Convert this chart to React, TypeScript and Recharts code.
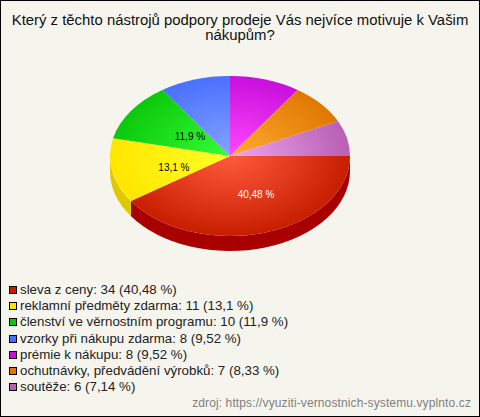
import { PieChart, Pie, Legend } from 'recharts';

const names = [
  'sleva z ceny',
  'reklamní předměty zdarma',
  'členství ve věrnostním programu',
  'vzorky při nákupu zdarma',
  'prémie k nákupu',
  'ochutnávky, předvádění výrobků',
  'soutěže',
];
const counts = [34, 11, 10, 8, 8, 7, 6];
const percents = ['40,48', '13,1', '11,9', '9,52', '9,52', '8,33', '7,14'];
const rimColors = ['#c81e00', '#ffe600', '#0cc80c', '#4a70ff', '#c80fdc', '#e07800', '#b860b4'];
const coreColors = ['#ff5a3c', '#ffff28', '#34ff34', '#84a4ff', '#ff48ff', '#ffac34', '#f0a4f0'];
const sideColors = ['#a80000', '#e0c800', '#0a9a0a', '#3a58c8', '#9c0cac', '#b06000', '#90488c'];

const data = names.map((name, i) => ({ name, value: counts[i] }));

const SQUASH = 2 / 3;
const DEPTH = 15;

const pt = (cx: number, cy: number, r: number, deg: number) => {
  const a = (-deg * Math.PI) / 180;
  return [cx + r * Math.cos(a), cy + r * SQUASH * Math.sin(a)];
};

function TopSlice(props: any) {
  const { cx, cy, outerRadius: r, startAngle, endAngle, index } = props;
  const [x1, y1] = pt(cx, cy, r, startAngle);
  const [x2, y2] = pt(cx, cy, r, endAngle);
  const large = Math.abs(endAngle - startAngle) > 180 ? 1 : 0;
  const id = `top-${index}`;
  return (
    <g>
      <defs>
        <radialGradient
          id={id}
          gradientUnits="userSpaceOnUse"
          cx={0}
          cy={0}
          r={1}
          gradientTransform={`translate(${cx} ${cy}) scale(${r} ${r * SQUASH})`}
        >
          <stop offset="0%" stopColor={coreColors[index]} />
          <stop offset="100%" stopColor={rimColors[index]} />
        </radialGradient>
      </defs>
      <path
        d={`M${cx},${cy} L${x1},${y1} A${r},${r * SQUASH} 0 ${large} 1 ${x2},${y2} Z`}
        fill={`url(#${id})`}
      />
    </g>
  );
}

// only the front half of the rim shows, so clip the slice to 0..-180 degrees
function SideSlice(props: any) {
  const { cx, cy, outerRadius: r, startAngle, endAngle, index } = props;
  const from = Math.max(startAngle, -180);
  const to = Math.max(endAngle, -180);
  if (from <= to) return <g />;
  const [x1, y1] = pt(cx, cy, r, from);
  const [x2, y2] = pt(cx, cy, r, to);
  const ry = r * SQUASH;
  return (
    <path
      d={`M${x1},${y1} A${r},${ry} 0 0 1 ${x2},${y2} L${x2},${y2 + DEPTH} A${r},${ry} 0 0 0 ${x1},${y1 + DEPTH} Z`}
      fill={sideColors[index]}
    />
  );
}

// the original labels sit a little off the slice bisector
const labelReach = [0.53, 0.487, 0.41];
const labelTurn = [7, 5.7, -1.2];

function sliceLabel(props: any) {
  const { cx, cy, outerRadius: r, midAngle, index } = props;
  if (index > 2) return null;
  const [x, y] = pt(cx, cy, r * labelReach[index], midAngle + labelTurn[index]);
  return (
    <text
      x={x}
      y={y}
      textAnchor="middle"
      dominantBaseline="central"
      fontFamily="Liberation Sans"
      fontSize={10}
      fill={index === 0 ? '#ffffff' : '#000000'}
    >
      {percents[index]} %
    </text>
  );
}

function LegendRows() {
  return (
    <div style={{ fontFamily: 'Liberation Sans', fontSize: 13.3, color: '#222222' }}>
      {names.map((name, i) => (
        <div key={name} style={{ height: 16.2, lineHeight: '16px', whiteSpace: 'nowrap', display: 'flex', alignItems: 'center' }}>
          <span
            style={{
              width: 6,
              height: 6,
              border: '1px solid #000000',
              background: rimColors[i],
              marginRight: 3,
              flex: 'none',
            }}
          />
          {name}: {counts[i]} ({percents[i]} %)
        </div>
      ))}
    </div>
  );
}

export default function App() {
  return (
    <div
      style={{
        position: 'absolute',
        left: 0,
        top: 0,
        width: 480,
        height: 417,
        boxSizing: 'border-box',
        border: '1px solid #000000',
        background: '#f5f5ee',
        overflow: 'hidden',
      }}
    >
      <PieChart
        width={480}
        height={417}
        margin={{ top: 0, right: 0, bottom: 0, left: 0 }}
        style={{ position: 'absolute', left: -1, top: -1 }}
      >
        <Pie
          data={data}
          dataKey="value"
          nameKey="name"
          cx={230}
          cy={156}
          outerRadius={120}
          startAngle={0}
          endAngle={-360}
          stroke="none"
          legendType="none"
          isAnimationActive={false}
          shape={SideSlice}
        />
        <Pie
          data={data}
          dataKey="value"
          nameKey="name"
          cx={230}
          cy={156}
          outerRadius={120}
          startAngle={0}
          endAngle={-360}
          stroke="none"
          isAnimationActive={false}
          shape={TopSlice}
          label={sliceLabel}
          labelLine={false}
        />
        <Legend
          content={<LegendRows />}
          layout="horizontal"
          align="left"
          verticalAlign="bottom"
          wrapperStyle={{ left: 9, top: 282, bottom: 'auto', width: 320 }}
        />
      </PieChart>
      <div
        style={{
          position: 'absolute',
          left: 0,
          top: 12,
          width: 478,
          textAlign: 'center',
          fontFamily: 'Liberation Sans',
          fontSize: 14.9,
          lineHeight: '15px',
          color: '#111111',
        }}
      >
        Který z těchto nástrojů podpory prodeje Vás nejvíce motivuje k Vašim nákupům?
      </div>
      <div
        style={{
          position: 'absolute',
          right: 8,
          top: 395,
          fontFamily: 'Liberation Sans',
          fontSize: 12,
          letterSpacing: 0.115,
          color: '#808080',
          whiteSpace: 'nowrap',
        }}
      >
        zdroj: https://vyuziti-vernostnich-systemu.vyplnto.cz
      </div>
    </div>
  );
}
